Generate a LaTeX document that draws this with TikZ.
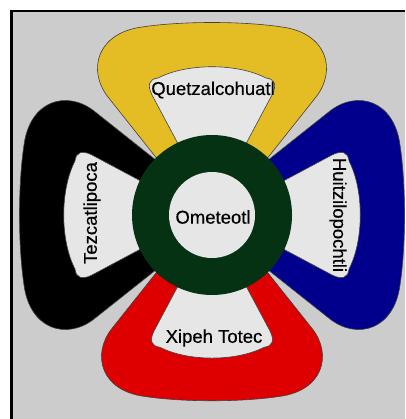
\documentclass[tikz,border=0pt]{standalone}
\usepackage{fontspec}
\setmainfont{Liberation Sans}
\newfontfamily\labfont{Liberation Sans}[FakeBold=0.5]
\definecolor{bgc}{RGB}{204,204,204}
\definecolor{holec}{RGB}{230,230,230}
\definecolor{yellowc}{RGB}{228,188,36}
\definecolor{bluec}{RGB}{0,0,140}
\definecolor{redc}{RGB}{222,0,0}
\definecolor{blackc}{RGB}{0,0,0}
\definecolor{ringc}{RGB}{6,50,20}
\tikzset{
  lobeline/.style={draw=black!75,line width=0.6pt},
  lab/.style={font=\labfont\fontsize{18.5}{20}\selectfont,inner sep=0pt,text=black},
}
\newcommand\mylobe[3]{%
  \begin{scope}[shift={(212,-215)},rotate=#1,scale=#3]
    \filldraw[fill=#2,lobeline] (-50,50) -- (-104,118)
      .. controls (-125,145) and (-115,182) .. (-70,188)
      .. controls (-30,194) and (30,194) .. (70,188)
      .. controls (115,182) and (125,145) .. (104,118)
      -- (50,50) -- cycle;
    \filldraw[fill=holec,lobeline] (-28,60) -- (-60,120)
      .. controls (-65,130) and (-63,136) .. (-54,137)
      .. controls (-25,152) and (25,152) .. (54,137)
      .. controls (63,136) and (65,130) .. (60,120)
      -- (28,60) -- cycle;
  \end{scope}}
\begin{document}
\begin{tikzpicture}[x=1pt,y=1pt]
\useasboundingbox (0,0) rectangle (405,-419);
\fill[white] (0,0) rectangle (405,-419);
\fill[bgc] (10,-10) rectangle (405,-419);
\draw[line width=2.5pt] (11.25,-419) -- (11.25,-11.25) -- (405,-11.25);
\mylobe{90}{blackc}{1}
\mylobe{-90}{bluec}{1}
\mylobe{0}{yellowc}{1}
\mylobe{180}{redc}{0.965}
\fill[ringc] (212,-215) circle (80);
\fill[holec] (212,-215) circle (43);
\node[lab] (q) at (213,-90) {Quetzalcohuatl};
\node[lab] (o) at (213,-217) {Ometeotl};
\node[lab] (x) at (214,-338) {Xipeh Totec};
\node[lab,rotate=90] (t) at (92,-213) {Tezcatlipoca};
\node[lab,rotate=-90] (h) at (338,-215) {Huitzilopochtli};
\end{tikzpicture}
\end{document}
